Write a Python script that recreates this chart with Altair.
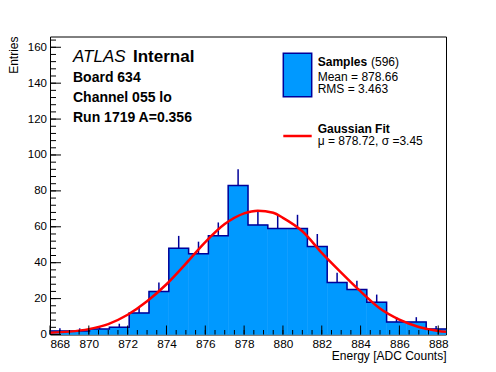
import altair as alt
import pandas as pd

FONT = "Liberation Sans"
BLUE = "#0099ff"
NAVY = "#000099"

# Histogram bin edges and counts
edges = [868.0, 869.02, 870.04, 871.06, 872.08, 873.10, 874.12, 875.14, 876.16, 877.18,
         878.20, 879.22, 880.24, 881.26, 882.28, 883.30, 884.32, 885.34, 886.36, 887.38, 888.40]
counts = [2, 2, 3, 4, 12, 24, 48, 45, 55, 83, 61, 59, 59, 49, 29, 25, 18, 7, 7, 3]

# Gaussian fit curve
fit_x = [868, 869, 870, 871, 872, 873, 874, 875, 876, 877, 878, 878.7, 879.5, 880,
         881, 882, 883, 884, 885, 886, 887, 888, 888.4]
fit_y = [1.0, 1.6, 3.0, 5.8, 11.0, 18.5, 28.0, 39.5, 51.5, 61.5, 67.5, 69.0, 67.8, 65.0,
         57.5, 45.5, 34.5, 24.0, 14.5, 8.3, 4.2, 2.0, 1.5]

x_major = [868, 870, 872, 874, 876, 878, 880, 882, 884, 886, 888]
y_major = [0, 20, 40, 60, 80, 100, 120, 140, 160]
x_minor = [868 + 0.5 * i for i in range(41)]
y_minor = [4 * i for i in range(42)]

hist_df = pd.DataFrame({"lo": edges[:-1], "hi": edges[1:], "count": counts, "base": [0] * len(counts)})
step_df = pd.DataFrame({"x": edges, "y": counts + [counts[-1]]})
fit_df = pd.DataFrame({"x": fit_x, "y": fit_y})

W, H = 396, 298
xs = alt.Scale(domain=[868, 888.4], nice=False, zero=False)
ys = alt.Scale(domain=[0, 166], nice=False, zero=True)

xaxis = alt.Axis(values=x_major, format="d", title="Energy [ADC Counts]", ticks=False, tickSize=0,
                 domain=False, grid=False, labelFontSize=11.8, labelBaseline="alphabetic",
                 labelPadding=12.6, labelColor="black", labelFont=FONT,
                 titleFont=FONT, titleFontSize=12, titleFontWeight="normal", titleColor="black",
                 titleX=W, titleY=25, titleAlign="right", titleBaseline="alphabetic", titleAnchor="end")
yaxis = alt.Axis(values=y_major, format="d", title=None, ticks=False, tickSize=0, domain=False,
                 grid=False, labelFontSize=11.5, labelBaseline="middle", labelPadding=3.5,
                 labelColor="black", labelFont=FONT)


def X(field):
    return alt.X(field, type="quantitative", scale=xs, axis=xaxis)


def Y(field):
    return alt.Y(field, type="quantitative", scale=ys, axis=yaxis)


bars = alt.Chart(hist_df).mark_rect(color=BLUE, stroke=BLUE, strokeWidth=0.5).encode(
    x=X("lo"), x2="hi", y=Y("count"), y2="base")

step = alt.Chart(step_df).mark_line(interpolate="step-after", color=NAVY, strokeWidth=1.5).encode(
    x=X("x"), y=Y("y"))

errs = alt.Chart(hist_df).transform_calculate(
    mid="(datum.lo + datum.hi) / 2", top="datum.count + sqrt(datum.count)"
).mark_rule(color=NAVY, strokeWidth=1.5).encode(x=X("mid"), y=Y("count"), y2="top:Q")

fit = alt.Chart(fit_df).mark_line(color="#ff0000", strokeWidth=2.5, interpolate="monotone", clip=True).encode(
    x=X("x"), y=Y("y"))

xmaj = alt.Chart(pd.DataFrame({"v": x_major})).mark_rule(color="black", strokeWidth=1).encode(
    x=X("v"), y=alt.value(H), y2=alt.value(H - 9))
xmin = alt.Chart(pd.DataFrame({"v": x_minor})).mark_rule(color="black", strokeWidth=1).encode(
    x=X("v"), y=alt.value(H), y2=alt.value(H - 4.5))
ymaj = alt.Chart(pd.DataFrame({"v": y_major})).mark_rule(color="black", strokeWidth=1).encode(
    y=Y("v"), x=alt.value(0), x2=alt.value(11))
ymin = alt.Chart(pd.DataFrame({"v": y_minor})).mark_rule(color="black", strokeWidth=1).encode(
    y=Y("v"), x=alt.value(0), x2=alt.value(6))


def label(text, x, y, size=12, weight="normal", style="normal", align="left", angle=0, baseline="alphabetic"):
    return alt.Chart(pd.DataFrame({"t": [text]})).mark_text(
        align=align, baseline=baseline, font=FONT, fontSize=size, fontWeight=weight,
        fontStyle=style, angle=angle, color="black"
    ).encode(x=alt.value(x), y=alt.value(y), text="t:N")


one = pd.DataFrame({"a": [0]})
swatch = alt.Chart(one).mark_rect(color=BLUE, stroke=NAVY, strokeWidth=1.5).encode(
    x=alt.value(233.3), x2=alt.value(261.7), y=alt.value(16.8), y2=alt.value(60.2))
redline = alt.Chart(one).mark_rule(color="#ff0000", strokeWidth=2.5).encode(
    x=alt.value(233.3), x2=alt.value(261.7), y=alt.value(99.5))

texts = [
    label("ATLAS", 23, 25.5, size=17, style="italic"),
    label("Internal", 83, 25.5, size=17, weight="bold"),
    label("Board 634", 23, 45.2, size=14, weight="bold"),
    label("Channel 055 lo", 23, 65.2, size=14, weight="bold"),
    label("Run 1719 A=0.356", 23, 85.2, size=14, weight="bold"),
    label("Samples", 267.7, 29.5, size=12, weight="bold"),
    label("(596)", 321, 29.5, size=12),
    label("Mean = 878.66", 267.7, 44.2, size=12),
    label("RMS = 3.463", 267.7, 56.8, size=12),
    label("Gaussian Fit", 267.7, 96.8, size=12, weight="bold"),
    label("\u03bc = 878.72, \u03c3 =3.45", 267.7, 108.8, size=12),
    label("Entries", -36, 0, size=12, align="right", angle=270, baseline="middle"),
]

chart = alt.layer(bars, step, errs, fit, xmin, xmaj, ymin, ymaj, swatch, redline, *texts).properties(
    width=W, height=H,
    autosize=alt.AutoSizeParams(type="none"),
    padding={"left": 42, "top": 28.5, "right": 42, "bottom": 29},
    background="white",
).configure_view(stroke="black", strokeWidth=1)

chart.save("out.html", embed_options={"renderer": "svg", "actions": False})
